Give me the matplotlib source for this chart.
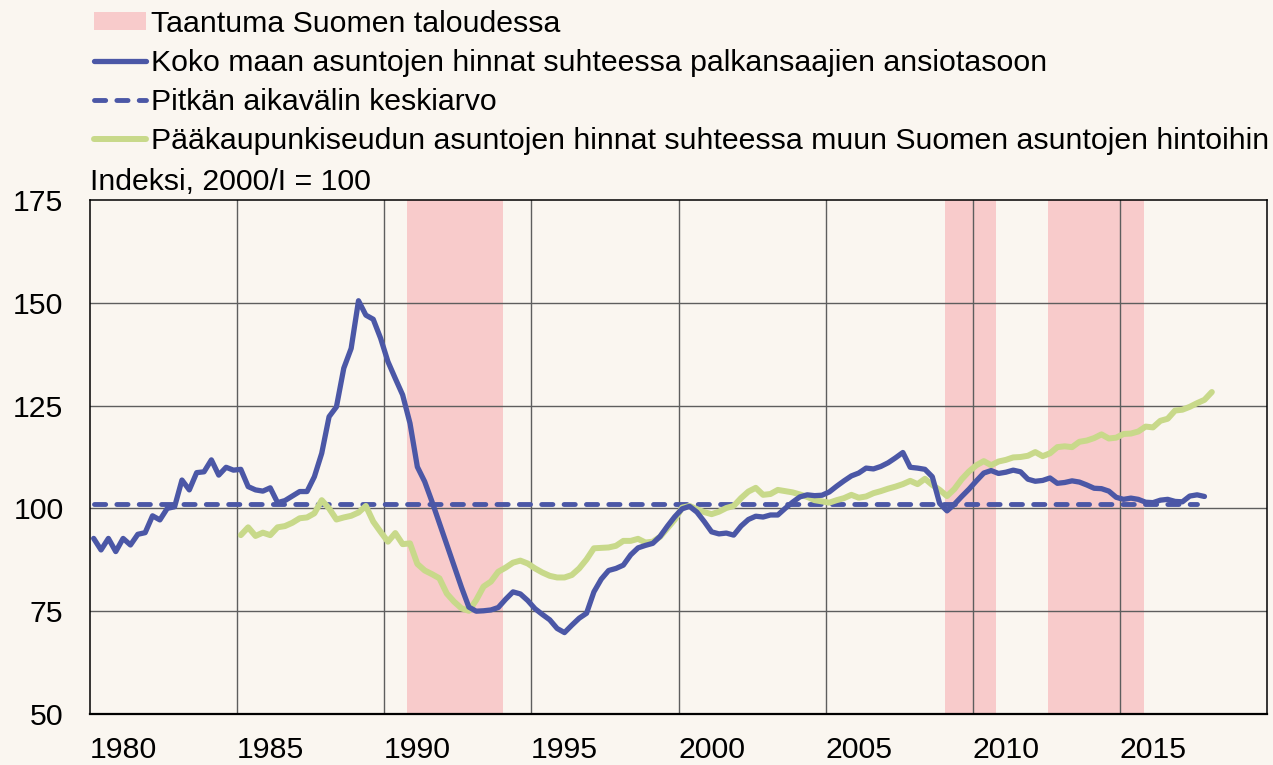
import numpy as np
import matplotlib.pyplot as plt
from matplotlib.lines import Line2D
from matplotlib.patches import Patch

plt.rcParams['font.family'] = ['Liberation Sans', 'DejaVu Sans']

# Koko maan asuntojen hinnat / ansiotaso, neljännesvuosittain 1979/I - 2016/IV
koko_maa = [
    92.7, 89.9, 92.7, 89.5,
    92.7, 91.1, 93.7, 94.1,
    98.2, 97.2, 100.0, 100.4,
    106.9, 104.5, 108.7, 108.9,
    111.8, 108.1, 110.0, 109.3,
    109.5, 105.3, 104.5, 104.2,
    105.0, 101.4, 101.9, 103.0,
    104.1, 104.1, 107.7, 113.4,
    122.3, 124.7, 134.1, 138.9,
    150.5, 147.0, 146.0, 141.4,
    135.7, 131.6, 127.6, 120.7,
    110.1, 106.5, 101.6, 96.4,
    91.2, 86.0, 80.8, 76.0,
    75.0, 75.1, 75.3, 75.9,
    77.9, 79.7, 79.2, 77.6,
    75.6, 74.2, 72.9, 70.8,
    69.8, 71.6, 73.3, 74.5,
    79.7, 82.8, 84.9, 85.4,
    86.2, 88.7, 90.4, 91.0,
    91.5, 93.2, 95.7, 98.0,
    99.9, 100.5, 99.1, 96.8,
    94.3, 93.8, 94.0, 93.5,
    95.7, 97.3, 98.1, 97.9,
    98.4, 98.4, 100.0, 101.5,
    102.8, 103.3, 103.1, 103.2,
    104.0, 105.4, 106.7, 107.9,
    108.6, 109.8, 109.6, 110.2,
    111.1, 112.3, 113.6, 110.0,
    109.8, 109.5, 107.7, 101.2,
    99.4, 101.0, 102.9, 104.7,
    106.7, 108.6, 109.2, 108.5,
    108.8, 109.3, 108.9, 107.1,
    106.6, 106.8, 107.4, 106.1,
    106.3, 106.7, 106.4, 105.7,
    104.9, 104.8, 104.2, 102.7,
    102.2, 102.5, 102.2, 101.5,
    101.4, 102.0, 102.2, 101.7,
    101.6, 103.0, 103.3, 102.9,
]
koko_alku = 1979

# Pääkaupunkiseutu / muu Suomi, 1984/I - 2017/I
pks = [
    93.5, 95.4, 93.3, 94.1,
    93.5, 95.4, 95.7, 96.5,
    97.6, 97.8, 98.8, 102.0,
    100.0, 97.3, 97.8, 98.2,
    99.0, 100.6, 96.8, 94.3,
    91.9, 94.0, 91.3, 91.5,
    86.5, 84.9, 84.0, 83.0,
    79.3, 77.3, 75.7, 75.1,
    77.7, 81.0, 82.2, 84.6,
    85.6, 86.8, 87.3, 86.6,
    85.4, 84.4, 83.6, 83.2,
    83.2, 83.8, 85.4, 87.6,
    90.3, 90.4, 90.5, 90.9,
    92.1, 92.1, 92.6, 91.7,
    91.9, 93.1, 95.2, 97.3,
    100.2, 100.6, 99.8, 99.1,
    98.6, 99.2, 100.1, 100.6,
    102.5, 104.1, 105.0, 103.3,
    103.5, 104.5, 104.2, 103.9,
    103.4, 102.8, 102.0, 101.7,
    101.4, 102.0, 102.5, 103.3,
    102.6, 102.9, 103.7, 104.2,
    104.8, 105.3, 105.9, 106.7,
    105.9, 107.2, 105.7, 104.5,
    103.0, 104.7, 107.1, 109.0,
    110.5, 111.5, 110.5, 111.4,
    111.8, 112.4, 112.5, 112.8,
    113.7, 112.7, 113.4, 114.9,
    115.1, 114.9, 116.2, 116.5,
    117.1, 118.0, 117.0, 117.2,
    118.1, 118.2, 118.7, 119.9,
    119.7, 121.3, 121.8, 123.8,
    124.0, 124.7, 125.6, 126.4,
    128.3,
]
pks_alku = 1984

# pitkän aikavälin keskiarvo
keskiarvo = 101.1
keskiarvo_jakso = (1979.125, 2016.625)

# taantumat (vuoden murto-osina)
taantumat = [(1989.77, 1993.03), (2008.06, 2009.79), (2011.57, 2014.81)]

vuodet = [1980, 1985, 1990, 1995, 2000, 2005, 2010, 2015]
pystyviivat = [1984, 1989, 1994, 1999, 2004, 2009, 2014]

sininen = '#4b57a6'
vihrea = '#c8d98a'
pinkki = '#f8cbcb'
tausta = '#faf6f0'
fs = 21.8
katko = (2.3, 2.3)

x_koko = koko_alku + (np.arange(len(koko_maa)) + 0.5) / 4
x_pks = pks_alku + (np.arange(len(pks)) + 0.5) / 4

fig = plt.figure(figsize=(12.73, 7.65), dpi=100, facecolor=tausta)
ax = fig.add_axes([90 / 1273, 1 - 714 / 765, 1177 / 1273, 514 / 765])
ax.set_facecolor(tausta)

for a, b in taantumat:
    ax.axvspan(a, b, color=pinkki, lw=0, zorder=0)

for v in pystyviivat:
    ax.axvline(v, color='#5e5e5e', lw=1.0, zorder=1)
for h in [75, 100, 125, 150]:
    ax.axhline(h, color='#5e5e5e', lw=1.0, zorder=1)

ax.plot(keskiarvo_jakso, [keskiarvo, keskiarvo], color=sininen, lw=3.5,
        dashes=katko, dash_capstyle='round', zorder=3)
ax.plot(x_pks, pks, color=vihrea, lw=4.3, solid_capstyle='round',
        solid_joinstyle='round', zorder=3)
ax.plot(x_koko, koko_maa, color=sininen, lw=3.8, solid_capstyle='round',
        solid_joinstyle='round', zorder=4)

ax.set_xlim(1979, 2019)
ax.set_ylim(50, 175)
ax.set_yticks([50, 75, 100, 125, 150, 175])
ax.set_xticks([v + 0.125 for v in vuodet])
ax.set_xticklabels([str(v) for v in vuodet])
ax.tick_params(axis='both', length=0, labelsize=fs)
ax.tick_params(axis='x', pad=16)
ax.tick_params(axis='y', pad=19)

for s in ['top', 'left', 'right']:
    ax.spines[s].set_linewidth(1.1)
ax.spines['bottom'].set_linewidth(1.6)

fig.text(90 / 1273, 1 - 190 / 765, 'Indeksi, 2000/I = 100', fontsize=fs,
         va='baseline', ha='left')

kahvat = [
    Patch(facecolor=pinkki, edgecolor='none'),
    Line2D([], [], color=sininen, lw=3.8, solid_capstyle='round'),
    Line2D([], [], color=sininen, lw=3.5, dashes=katko, dash_capstyle='round'),
    Line2D([], [], color=vihrea, lw=4.3, solid_capstyle='round'),
]
nimet = [
    'Taantuma Suomen taloudessa',
    'Koko maan asuntojen hinnat suhteessa palkansaajien ansiotasoon',
    'Pitkän aikavälin keskiarvo',
    'Pääkaupunkiseudun asuntojen hinnat suhteessa muun Suomen asuntojen hintoihin',
]
fig.legend(kahvat, nimet, loc='upper left', bbox_to_anchor=(94 / 1273, 1 - 10 / 765),
           frameon=False, fontsize=fs, handlelength=1.72, handleheight=0.55,
           handletextpad=0.16, labelspacing=0.36, borderpad=0, borderaxespad=0)

fig.savefig('out.png', dpi=100, facecolor=tausta)
